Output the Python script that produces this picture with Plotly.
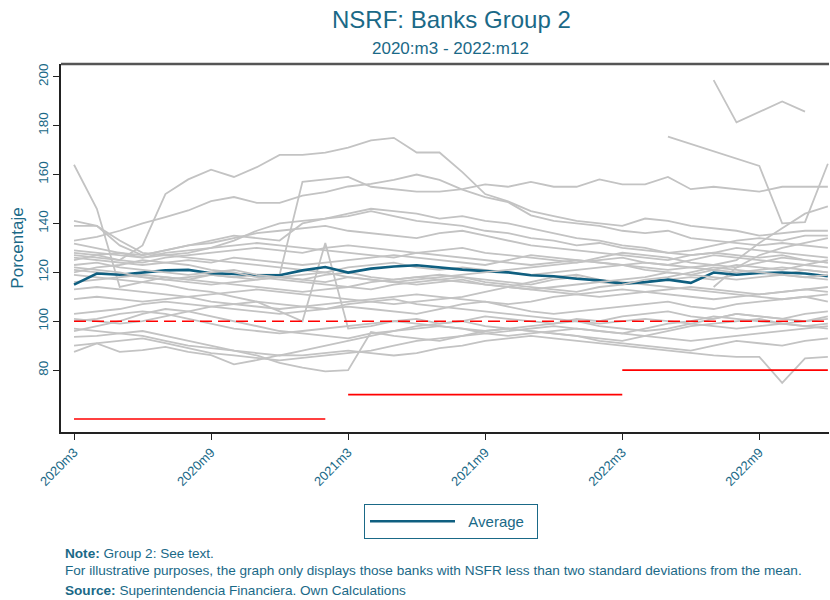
import plotly.graph_objects as go

# ---------------- data ----------------
months = ["2020m3","2020m4","2020m5","2020m6","2020m7","2020m8","2020m9","2020m10","2020m11","2020m12",
          "2021m1","2021m2","2021m3","2021m4","2021m5","2021m6","2021m7","2021m8","2021m9","2021m10","2021m11","2021m12",
          "2022m1","2022m2","2022m3","2022m4","2022m5","2022m6","2022m7","2022m8","2022m9","2022m10","2022m11","2022m12"]
tick_labels = ["2020m3","2020m9","2021m3","2021m9","2022m3","2022m9"]
y_ticks = [80, 100, 120, 140, 160, 180, 200]

N = None
banks = {
 "b01": [164,146,114,116,118,117,119,118,117,118,117,119,120,118,117,118,119,118,117,116,115,117,118,116,115,116,117,118,117,119,120,119,121,120],
 "b02": [127,126,125,131,152,158,162,159,163,168,168,169,171,174,175,169,169,161,152,149,145,143,141,140,139,142,141,139,138,137,135,136,137,137],
 "b03": [121,120,119,118,117,118,119,118,119,119,157,158,159,155,154,153,153,154,156,155,157,155,155,158,156,156,159,154,155,154,153,155,155,155],
 "b04": [133,134.5,137,140,142.6,145.3,149.1,150.8,148.4,148.4,151.4,152.8,155.1,156.2,157.8,160,157.8,153.8,150.8,148.7,143.3,141,140,139,137,136,137,134,133,132,131,132,131,130],
 "b05": [141,139,131,127,129,131,133,135,134,133,140,142,143,145,143,141,140,139,137,136,134,133,131,132,130,129,128,127,128,127,126,127,125,124],
 "b06": [139,139,133,128,127,128,130,133,137,140,141,142,144,146,145,144,142,143,141,140,138,136,134,133,131,130,128,129,131,133,134,133,135,135],
 "b07": [129,128,127,126,128,129,130,131,132,131,130,129,128,127,126,128,127,126,125,124,123,124,125,124,123,122,121,122,123,125,132,138,144,147],
 "b08": [128,127,125,124,126,127,128,129,130,129,128,130,131,130,129,128,129,130,128,127,126,125,124,126,128,127,126,124,123,122,124,126,125,124],
 "b09": [126,125,124,123,124,125,124,126,125,124,123,124,125,126,127,126,125,124,123,125,127,126,125,124,123,121,120,119,121,123,122,121,123,122],
 "b10": [125,127,128,126,127,126,125,124,123,122,121,120,122,123,124,122,121,122,121,120,119,120,121,122,123,124,123,122,121,120,121,122,121,120],
 "b13": [119,118,117,116,115,113,112,110,108,104,100,132,97,98,100,101,99,100,102,101,100,99,101,100,102,103,104,102,101,103,102,101,103,104],
 "b14": [113,114,113,112,111,110,108,107,106,105,106,107,108,109,110,111,110,109,108,107,108,110,111,112,113,112,111,110,109,110,111,112,113,114],
 "b15": [109,110,109,108,109,110,111,112,113,112,111,110,109,108,107,108,109,110,112,114,116,118,119,117,116,115,114,113,112,111,110,109,110,111],
 "b16": [103,104,105,107,108,107,106,105,104,103,104,105,106,105,104,103,105,107,108,106,104,103,104,105,106,107,108,106,105,107,108,109,110,108],
 "b17": [101,100,99,100,102,104,106,107,108,107,106,105,107,108,109,107,106,105,104,103,102,101,100,99,100,101,100,99,98,97,98,99,100,101],
 "b18": [96,98,100,103,105,104,102,100,98,96,95,94,93,95,96,97,98,97,96,97,98,99,100,98,97,96,97,99,101,103,102,101,100,102],
 "b19": [93.6,94,95,96,94,92,90,88,87,86,88,90,92,94,96,98,99,100,98,97,96,95,94,93,92,94,96,98,99,100,101,99,98,97],
 "b20": [90,91,92,93,91,89,87,86,85,84,85,86,87,88,90,92,93,94,95,96,97,98,97,96,95,94,93,92,93,94,95,96,97,98],
 "b21": [87.5,90.9,87.5,88.2,89.5,87.5,86.1,82.4,84.1,86.1,86,87,88,87,86,87,89,90,92,93,94,93,92,91,90,89,88,87,86,85.4,85.4,74.8,84.8,85.4],
 "b22": [97,96,95,94,92,90,89,88,86,83,81,79.5,80,95.6,94,93,92,94,96,97,96,95,94,92,91,90,89,88,90,92,91,90,92,93],
 "b24": [116,117,118,119,118,117,116,115,114,113,112,113,114,116,117,118,117,116,115,114,113,112,111,110,111,112,113,114,113,112,111,112,113,112],
 "b25": [131.7,130,128,127,129,131,132,134,136,137,138,139,137,136,135,134,136,137,135,133,131,130,129,128,127,126,125,127,128,130,129,128,127,126],
 "b26": [N]*26 + [175.5, N, N, N, 163.5, 140, 140.5, 164.4],
 "b27": [N]*28 + [198.6, 181.3, N, 189.9, 185.7, N],
 "b28": [N]*28 + [114, 122, 127, 130, 132, 134],
 "b29": [100,101,103,104,103,101,99,97,96,95,96,97,98,99,100,99,98,97,95,94,95,96,97,96,95,97,99,100,102,101,100,99,98,99],
}
banks_top = {
 "b11": [123,124,122,121,120,119,120,121,119,118,117,116,118,117,116,115,116,117,115,114,113,114,115,116,117,118,120,119,118,117,118,119,118,117],
 "b12": [120,122,123,125,124,123,121,120,118,117,116,115,114,113,115,116,117,118,116,115,114,113,112,114,115,117,118,120,122,121,120,119,118,119],
 "b23": [122,121,120,118,117,116,115,116,117,118,119,120,118,117,116,117,118,119,120,121,122,123,124,125,126,124,123,125,127,126,125,124,123,125],
}
average = [115,119.5,119,119.9,120.8,121,119.6,119.3,118.8,118.8,120.8,122.2,119.9,121.5,122.4,122.9,121.9,121.1,
           120.5,120,118.8,118.4,117.4,116.7,115.4,116,117,115.7,119.9,119,119.7,119.9,119.5,118.4]

# regulatory thresholds
thr_60_x, thr_60_y = ["2020m3", "2021m2"], [60, 60]
thr_70_x, thr_70_y = ["2021m3", "2022m3"], [70, 70]
thr_80_x, thr_80_y = ["2022m3", "2022m12"], [80, 80]
ref_100_x, ref_100_y = ["2020m3", "2022m12"], [100, 100]

# ---------------- figure ----------------
TEAL = "#1a6987"
AVG_C = "#0f5f80"
GREY = "#c3c3c3"
FONT = "Liberation Sans, Arial, sans-serif"

fig = go.Figure()

def grey(vals):
    fig.add_trace(go.Scatter(x=months, y=vals, mode="lines", connectgaps=True,
                             line=dict(color=GREY, width=1.8), showlegend=False, hoverinfo="skip"))

for v in banks.values():
    grey(v)

fig.add_trace(go.Scatter(x=months, y=average, mode="lines", name="\u00a0\u00a0Average",
                         line=dict(color=AVG_C, width=2.6), showlegend=True))

for v in banks_top.values():
    grey(v)

for xs, ys, dash in [(thr_60_x, thr_60_y, "solid"), (thr_70_x, thr_70_y, "solid"),
                     (thr_80_x, thr_80_y, "solid"), (ref_100_x, ref_100_y, "12px,6px")]:
    fig.add_trace(go.Scatter(x=xs, y=ys, mode="lines", showlegend=False, hoverinfo="skip",
                             line=dict(color="#ff0000", width=1.6, dash=dash)))

L, R, T, B = 61, 829, 64, 432
W, H = R - L, B - T
def px(xp): return (xp - L) / W
def py(yp): return (B - yp) / H

fig.update_layout(
    width=830, height=600,
    margin=dict(l=L, r=830 - R, t=T, b=600 - B, autoexpand=False),
    paper_bgcolor="white", plot_bgcolor="white",
    font=dict(family=FONT, color=TEAL, size=13),
    showlegend=True,
    legend=dict(orientation="h", x=px(451), xanchor="center", y=py(504), yanchor="top",
                bordercolor=TEAL, borderwidth=1, font=dict(size=15, color=TEAL),
                itemwidth=85, entrywidth=72, entrywidthmode="pixels", bgcolor="white"),
)
fig.update_xaxes(type="category", categoryorder="array", categoryarray=months, automargin=False,
                 range=[-0.57, 33.05], tickmode="array", tickvals=tick_labels, ticktext=tick_labels,
                 tickangle=-45, ticks="outside", ticklen=6, tickcolor="#222", tickwidth=1.3,
                 showline=True, linecolor="#222", linewidth=1.5, mirror=False, showgrid=False,
                 zeroline=False, tickfont=dict(size=13, color=TEAL))
fig.update_yaxes(range=[54.7, 205.2], tickmode="array", tickvals=y_ticks, tickangle=-90, automargin=False,
                 ticks="outside", ticklen=6, tickcolor="#222", tickwidth=1.3,
                 showline=True, linecolor="#222", linewidth=1.5, showgrid=False, zeroline=False,
                 tickfont=dict(size=13.5, color=TEAL),
                 title=dict(text="Porcentaje", font=dict(size=17, color=TEAL), standoff=8))

# top border of the plot frame
fig.add_shape(type="line", xref="paper", yref="paper", x0=0, x1=1, y0=1, y1=1,
              line=dict(color="#555", width=2.5))

ann = [
    dict(text="NSRF: Banks Group 2", x=px(451), y=py(20), size=24),
    dict(text="2020:m3 - 2022:m12", x=px(450), y=py(48), size=17),
]
for a in ann:
    fig.add_annotation(text=a["text"], xref="paper", yref="paper", x=a["x"], y=a["y"],
                       xanchor="center", yanchor="middle", showarrow=False,
                       font=dict(size=a["size"], color=TEAL, family=FONT))

notes = [
    ("<b>Note:</b> Group 2: See text.", 553),
    ("For illustrative purposes, the graph only displays those banks with NSFR less than two standard deviations from the mean.", 570),
    ("<b>Source:</b> Superintendencia Financiera. Own Calculations", 590),
]
for t, yy in notes:
    fig.add_annotation(text=t, xref="paper", yref="paper", x=px(63), y=py(yy),
                       xanchor="left", yanchor="middle", showarrow=False, align="left",
                       font=dict(size=13.6, color=TEAL, family=FONT))

fig.write_html("out.html", config={"displayModeBar": False},
               post_script="document.body.style.margin='0px';document.body.style.overflow='hidden';")
